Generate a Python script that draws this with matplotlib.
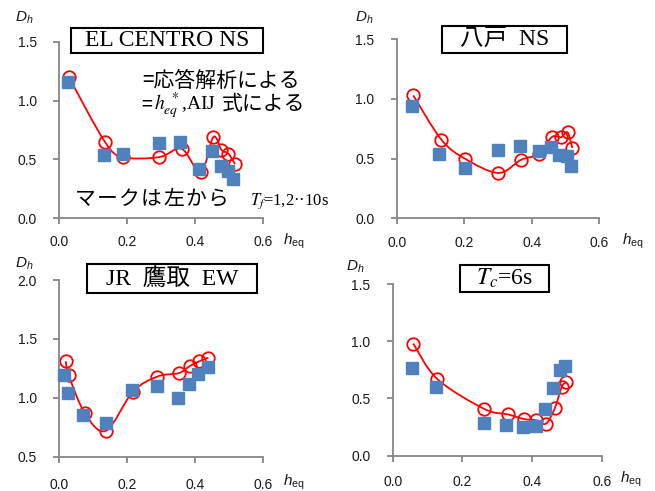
import matplotlib
matplotlib.use('Agg')
import matplotlib.pyplot as plt
from matplotlib.path import Path
from matplotlib.patches import PathPatch, Rectangle
import numpy as np

# ---- data (h_eq, D_h), Tf = 1..10 s ----
# EL CENTRO NS
elc_h_circ = [0.028, 0.134, 0.188, 0.294, 0.360, 0.416, 0.453, 0.477, 0.497, 0.517]
elc_d_circ = [1.20, 0.65, 0.52, 0.52, 0.59, 0.39, 0.69, 0.58, 0.55, 0.46]
elc_h_sq = [0.026, 0.132, 0.188, 0.294, 0.355, 0.410, 0.450, 0.475, 0.497, 0.512]
elc_d_sq = [1.16, 0.54, 0.55, 0.64, 0.65, 0.42, 0.57, 0.44, 0.40, 0.33]

# 八戸 NS
hac_h_circ = [0.049, 0.132, 0.202, 0.301, 0.368, 0.422, 0.459, 0.487, 0.506, 0.520]
hac_d_circ = [1.03, 0.66, 0.50, 0.38, 0.49, 0.54, 0.68, 0.68, 0.72, 0.59]
hac_h_sq = [0.046, 0.125, 0.202, 0.300, 0.365, 0.420, 0.457, 0.482, 0.503, 0.515]
hac_d_sq = [0.94, 0.54, 0.42, 0.57, 0.61, 0.56, 0.60, 0.53, 0.52, 0.44]

# JR 鷹取 EW
jrt_h_circ = [0.019, 0.028, 0.075, 0.137, 0.216, 0.288, 0.352, 0.384, 0.412, 0.438]
jrt_d_circ = [1.31, 1.19, 0.87, 0.72, 1.05, 1.18, 1.21, 1.27, 1.31, 1.34]
jrt_h_sq = [0.015, 0.026, 0.071, 0.136, 0.215, 0.286, 0.350, 0.380, 0.409, 0.436]
jrt_d_sq = [1.19, 1.04, 0.85, 0.79, 1.07, 1.10, 1.00, 1.12, 1.20, 1.26]

# Tc = 6s
tc6_h_circ = [0.059, 0.128, 0.262, 0.332, 0.377, 0.411, 0.440, 0.466, 0.485, 0.497]
tc6_d_circ = [0.98, 0.67, 0.41, 0.36, 0.32, 0.31, 0.28, 0.42, 0.60, 0.64]
tc6_h_sq = [0.055, 0.124, 0.262, 0.325, 0.375, 0.411, 0.437, 0.459, 0.480, 0.495]
tc6_d_sq = [0.77, 0.60, 0.29, 0.27, 0.25, 0.26, 0.41, 0.59, 0.75, 0.78]

x_ticks = [0.0, 0.2, 0.4, 0.6]

W, H = 655, 491
GRAY = '#868686'
BLUE = '#4F81BD'
JP = 'Noto Sans CJK JP'

plt.rcParams['mathtext.fontset'] = 'custom'
plt.rcParams['mathtext.rm'] = 'Liberation Sans'
plt.rcParams['mathtext.it'] = 'Liberation Sans:italic'
plt.rcParams['font.family'] = ['Liberation Sans', 'DejaVu Sans']

fig = plt.figure(figsize=(6.55, 4.91), dpi=100)


def fx(x):
    return x / W


def fy(y):
    return 1 - y / H


def smooth_path(x, y):
    # Excel-style smoothed line (Catmull-Rom as cubic Bezier)
    pts = np.column_stack([x, y])
    n = len(pts)
    verts = [pts[0]]
    codes = [Path.MOVETO]
    for i in range(n - 1):
        p0 = pts[max(i - 1, 0)]
        p1 = pts[i]
        p2 = pts[i + 1]
        p3 = pts[min(i + 2, n - 1)]
        verts += [p1 + (p2 - p0) / 6, p2 - (p3 - p1) / 6, p2]
        codes += [Path.CURVE4] * 3
    return Path(verts, codes)


def panel(L, R, T, B, ylim, yticks, hc, dc, hs, ds, xpad):
    ax = fig.add_axes([fx(L), fy(B), (R - L) / W, (B - T) / H])
    ax.patch.set_visible(False)
    ax.set_xlim(0, 0.6)
    ax.set_ylim(*ylim)
    ax.set_xticks(x_ticks)
    ax.set_yticks(yticks)
    ax.xaxis.set_major_formatter('{x:.1f}')
    ax.yaxis.set_major_formatter('{x:.1f}')
    for s in ['top', 'right']:
        ax.spines[s].set_visible(False)
    for s in ['left', 'bottom']:
        ax.spines[s].set_color(GRAY)
        ax.spines[s].set_linewidth(1.3)
    ax.tick_params(direction='out', length=4, width=1.3, color=GRAY,
                   labelsize=10, labelcolor='#1a1a1a')
    ax.tick_params(axis='x', pad=xpad)
    ax.tick_params(axis='y', pad=12)
    ax.add_patch(PathPatch(smooth_path(hc, dc), fill=False, ec='red',
                           lw=1.3, clip_on=False, zorder=2))
    ax.plot(hc, dc, 'o', ms=9, mfc='none', mec='red', mew=1.3,
            clip_on=False, zorder=2)
    ax.plot(hs, ds, 's', ms=8, color=BLUE, clip_on=False, zorder=3)
    return ax


panel(59.3, 263.3, 41.7, 218.3, (0, 1.5), [0.0, 0.5, 1.0, 1.5],
      elc_h_circ, elc_d_circ, elc_h_sq, elc_d_sq, 8)
panel(396.7, 599.3, 39.3, 218.3, (0, 1.5), [0.0, 0.5, 1.0, 1.5],
      hac_h_circ, hac_d_circ, hac_h_sq, hac_d_sq, 9)
panel(59.3, 263.3, 280, 456.7, (0.5, 2.0), [0.5, 1.0, 1.5, 2.0],
      jrt_h_circ, jrt_d_circ, jrt_h_sq, jrt_d_sq, 11.5)
panel(392.7, 601.7, 284, 455.7, (0, 1.5), [0.0, 0.5, 1.0, 1.5],
      tc6_h_circ, tc6_d_circ, tc6_h_sq, tc6_d_sq, 10)

# axis names
for x, y in [(15, 22), (355, 22), (15, 268), (346, 271)]:
    fig.text(fx(x), fy(y), r'$D_h$', fontsize=11, math_fontfamily='custom',
             va='baseline', color='#1a1a1a')
for x, y in [(283, 245), (622, 245), (283, 486), (620, 483)]:
    fig.text(fx(x), fy(y), r'$h_{\mathrm{eq}}$', fontsize=11,
             math_fontfamily='custom', va='baseline', color='#1a1a1a')

# title boxes
boxes = [
    ((70.7, 28.3, 263.3, 52.7), 'EL CENTRO NS'),
    ((442.3, 26.0, 566.7, 53.3), '八戸  NS'),
    ((87.3, 264.3, 257.3, 293.3), 'JR  鷹取  EW'),
    ((460.0, 265.0, 549.0, 291.7), r'$T_c$=6s'),
]
for (x0, y0, x1, y1), s in boxes:
    fig.add_artist(Rectangle((fx(x0), fy(y1)), (x1 - x0) / W, (y1 - y0) / H,
                             transform=fig.transFigure, fill=False,
                             ec='black', lw=1.5))
    fig.text(fx((x0 + x1) / 2), fy((y0 + y1) / 2), s, fontsize=17,
             family=['Liberation Serif', JP], math_fontfamily='stix',
             ha='center', va='center')

# legend text in first panel
fig.text(fx(142), fy(87), '=応答解析による', fontsize=15, family=JP,
         va='baseline')
fig.text(fx(141), fy(110), '=', fontsize=14, family=JP, va='baseline')
fig.text(fx(154), fy(110), r'$h_{eq}^{\ *}$,AIJ', fontsize=14,
         family='Liberation Serif', math_fontfamily='stix', va='baseline')
fig.text(fx(222), fy(110), '式による', fontsize=15, family=JP, va='baseline')

# "マークは左から" is set with slightly wide letter spacing in the original
mark_text = 'マークは左から'
for i, ch in enumerate(mark_text):
    fig.text(fx(75 + i * 22), fy(205), ch, fontsize=15, family=JP,
             va='baseline')
fig.text(fx(250), fy(205), '$T_f$=1,2\u00b7\u00b710s', fontsize=12,
         family='Liberation Serif', math_fontfamily='stix', va='baseline')

fig.savefig('out.png', dpi=100)
